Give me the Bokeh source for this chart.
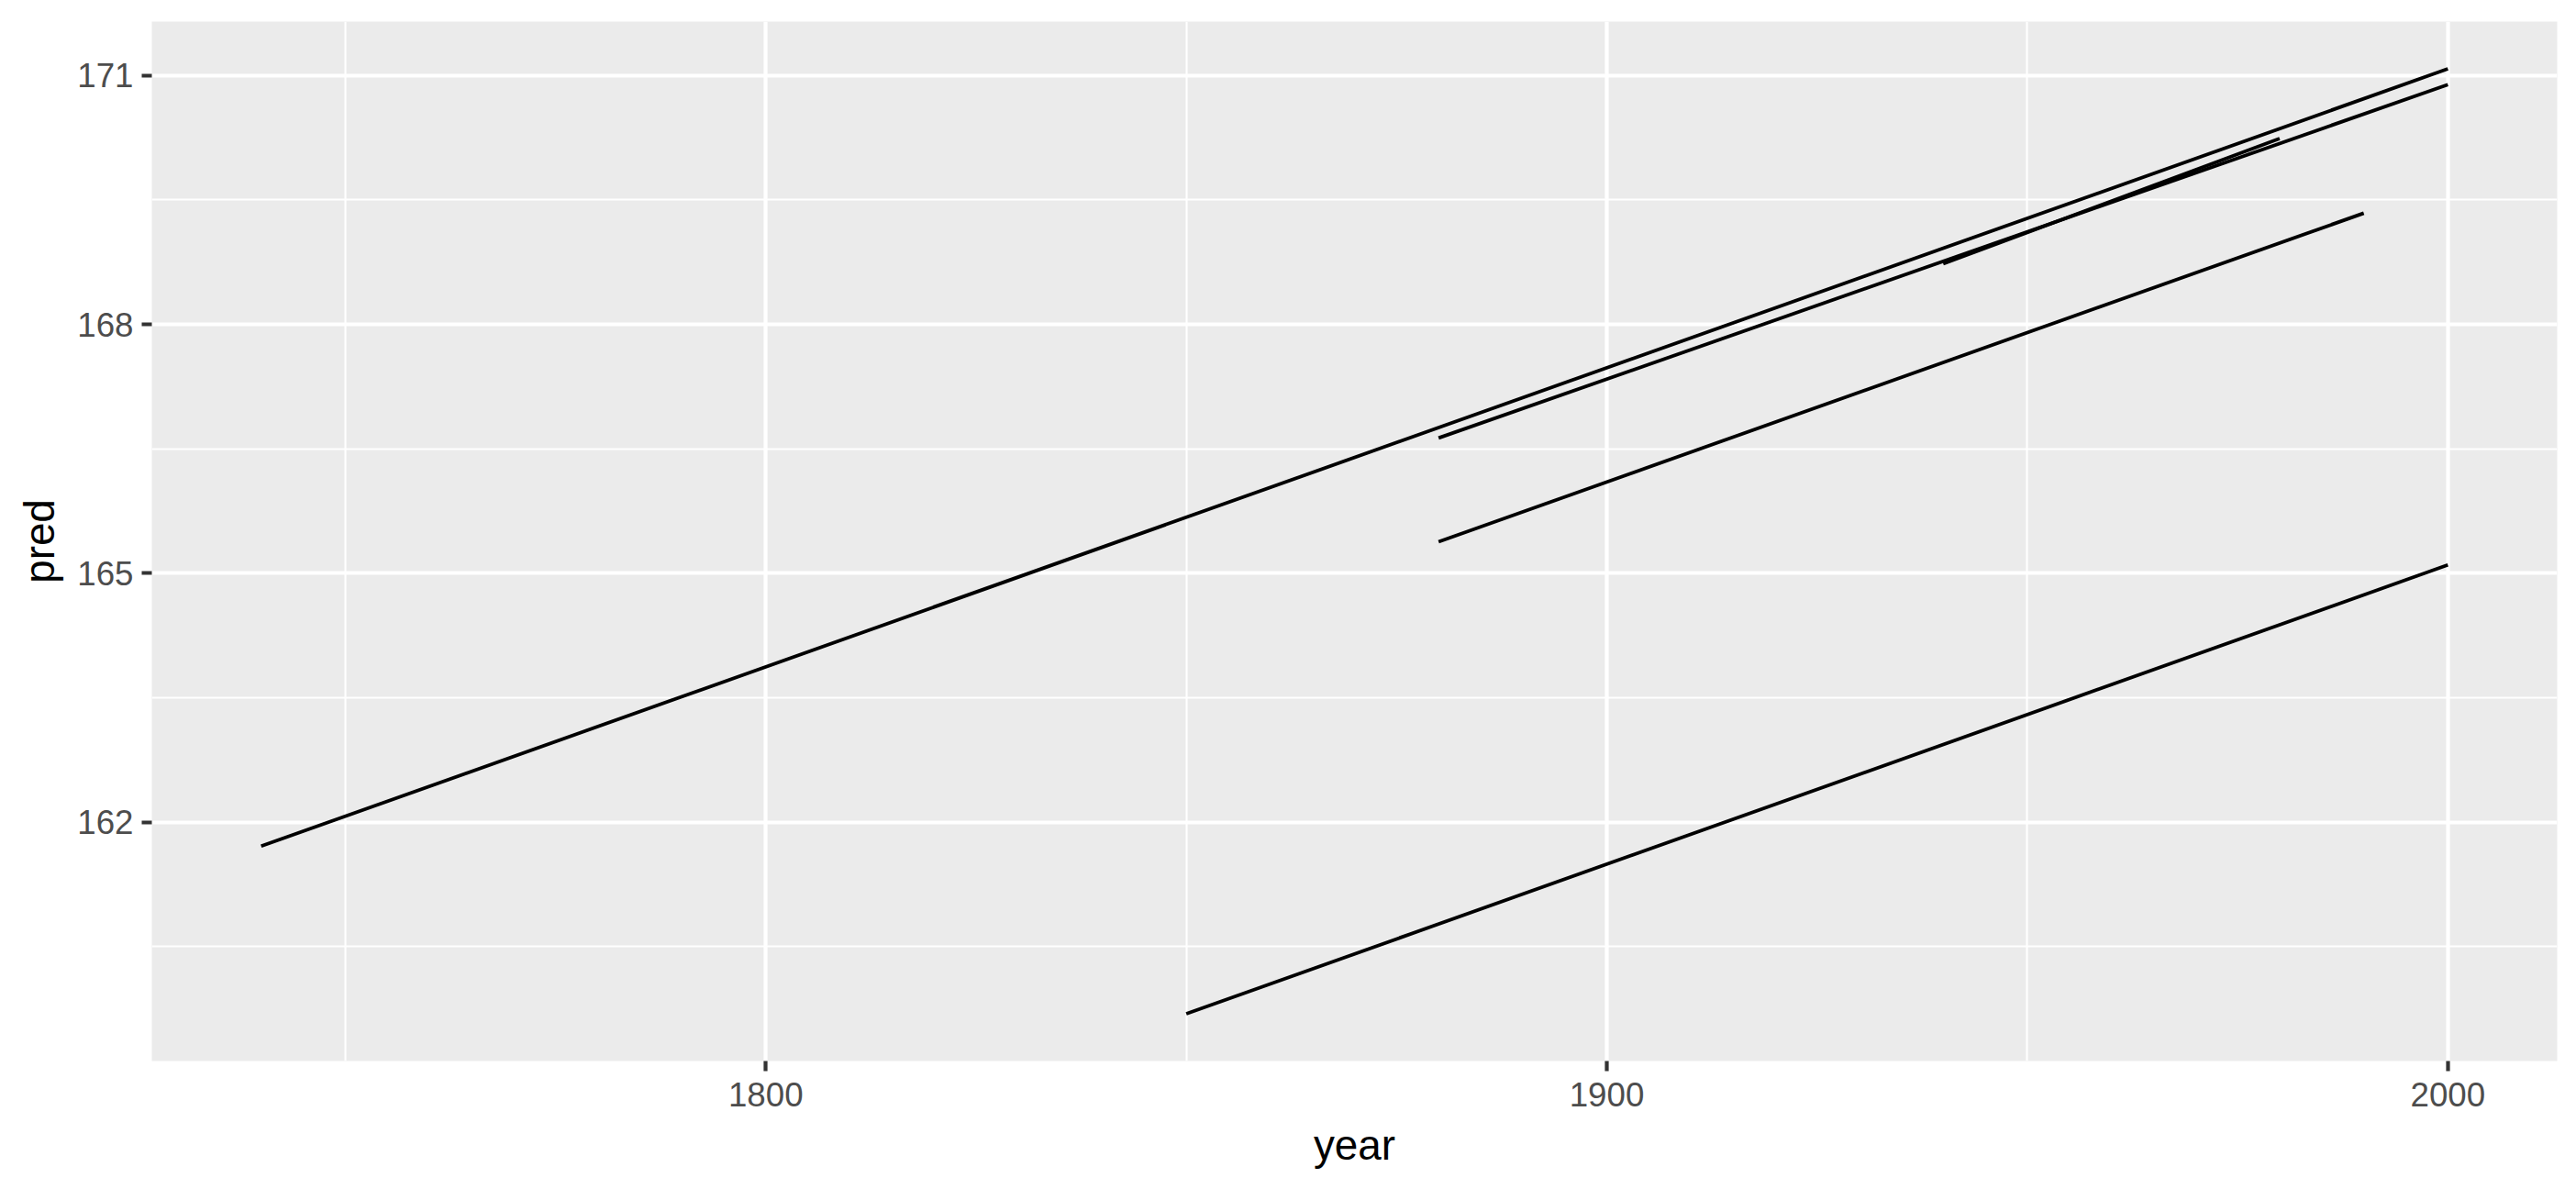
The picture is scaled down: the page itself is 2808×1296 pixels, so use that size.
from bokeh.plotting import figure
from bokeh.models import Range1d, FixedTicker, ColumnDataSource
from bokeh.embed import file_html
from bokeh.resources import INLINE

# Data: each series is a straight predicted line (start, end)
series = ["s1", "s2", "s3", "s4", "s5"]
year_start = [1740, 1880, 1940, 1880, 1850]
year_end = [2000, 2000, 1980, 1990, 2000]
pred_start = [161.71, 166.63, 168.73, 165.38, 159.69]
pred_end = [171.08, 170.89, 170.24, 169.34, 165.10]

x_major = [1800, 1900, 2000]
x_minor = [1750, 1850, 1950]
y_major = [162, 165, 168, 171]
y_minor = [160.5, 163.5, 166.5, 169.5]

xmin = min(year_start); xmax = max(year_end)
ymin = min(pred_start + pred_end); ymax = max(pred_start + pred_end)
xpad = 0.05 * (xmax - xmin); ypad = 0.05 * (ymax - ymin)

p = figure(width=2792, height=1280, output_backend="svg", toolbar_location=None,
           x_range=Range1d(xmin - xpad, xmax + xpad),
           y_range=Range1d(ymin - ypad, ymax + ypad),
           min_border_left=165, min_border_right=5,
           min_border_top=23, min_border_bottom=124)

p.background_fill_color = "#EBEBEB"
p.border_fill_color = "white"
p.outline_line_color = None

src = ColumnDataSource(dict(
    xs=[[a, b] for a, b in zip(year_start, year_end)],
    ys=[[a, b] for a, b in zip(pred_start, pred_end)],
    name=series))
p.multi_line(xs="xs", ys="ys", source=src, line_color="black", line_width=3.8)

p.xaxis.ticker = FixedTicker(ticks=x_major, minor_ticks=x_minor)
p.yaxis.ticker = FixedTicker(ticks=y_major, minor_ticks=y_minor)

for g in (p.xgrid, p.ygrid):
    g.grid_line_color = "white"
    g.grid_line_width = 4.2
    g.minor_grid_line_color = "white"
    g.minor_grid_line_width = 2.1

for ax in (p.xaxis, p.yaxis):
    ax.axis_line_color = None
    ax.major_tick_line_color = "#333333"
    ax.major_tick_line_width = 4.2
    ax.major_tick_out = 11
    ax.major_tick_in = 0
    ax.minor_tick_line_color = None
    ax.major_label_text_font = "Liberation Sans"
    ax.major_label_text_font_size = "36.7px"
    ax.major_label_text_color = "#4D4D4D"
    ax.axis_label_text_font = "Liberation Sans"
    ax.axis_label_text_font_size = "45.8px"
    ax.axis_label_text_font_style = "normal"
    ax.axis_label_text_color = "black"

p.xaxis.axis_label = "year"
p.yaxis.axis_label = "pred"
p.xaxis.major_label_standoff = 12
p.yaxis.major_label_standoff = 9
p.xaxis.axis_label_standoff = 14
p.yaxis.axis_label_standoff = 12

open("out.html", "w").write(file_html(p, INLINE))
